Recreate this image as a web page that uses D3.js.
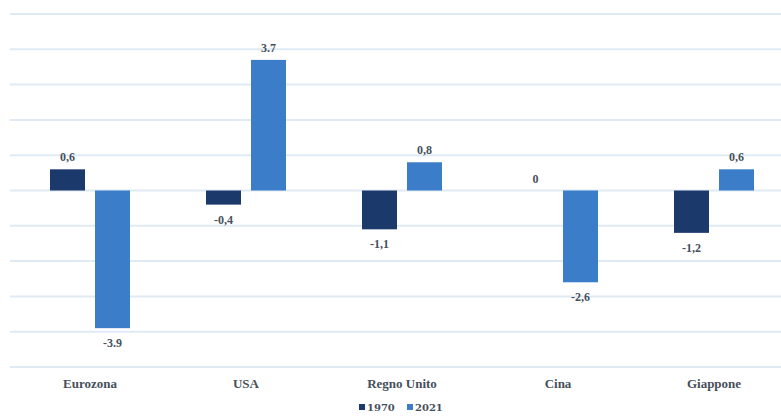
<!DOCTYPE html>
<html>
<head>
<meta charset="utf-8">
<script src="https://cdn.jsdelivr.net/npm/d3@7"></script>
<style>
  body { margin: 0; background: #fff; }
  svg { display: block; font-family: "Liberation Serif", "DejaVu Serif", serif; }
</style>
</head>
<body>
<svg width="781" height="417"></svg>
<script>
// Chart data
var categories = ['Eurozona', 'USA', 'Regno Unito', 'Cina', 'Giappone'];
var seriesNames = ['1970', '2021'];
var values1970 = [0.6, -0.4, -1.1, 0, -1.2];
var values2021 = [-3.9, 3.7, 0.8, -2.6, 0.6];
var labels1970 = ['0,6', '-0,4', '-1,1', '0', '-1,2'];
var labels2021 = ['-3.9', '3.7', '0,8', '-2,6', '0,6'];
var yTicks = [-5, -4, -3, -2, -1, 0, 1, 2, 3, 4, 5];

var colors = {'1970': '#1b3a6b', '2021': '#3b7dc9'};

var svg = d3.select('svg');

// Scales
var xScale = d3.scaleBand()
    .domain(categories)
    .range([12, 792]);

var xInner = d3.scaleBand()
    .domain(seriesNames)
    .range([0, 80])
    .paddingInner(0.222);

var yScale = d3.scaleLinear()
    .domain([-5, 5])
    .range([367, 14]);

// Gridlines
svg.append('g')
    .selectAll('line')
    .data(yTicks)
    .enter()
    .append('line')
    .attr('x1', 10)
    .attr('x2', 781)
    .attr('y1', function(d) { return yScale(d); })
    .attr('y2', function(d) { return yScale(d); })
    .attr('stroke', '#dfeaf4')
    .attr('stroke-width', 2);

// Build rows for bars
var rows = [];
categories.forEach(function(c, i) {
    rows.push({cat: c, series: '1970', value: values1970[i], label: labels1970[i]});
    rows.push({cat: c, series: '2021', value: values2021[i], label: labels2021[i]});
});

var offset = (xScale.bandwidth() - 80) / 2;

var barG = svg.append('g');

barG.selectAll('rect')
    .data(rows.filter(function(d) { return d.value !== 0; }))
    .enter()
    .append('rect')
    .attr('x', function(d) { return xScale(d.cat) + offset + xInner(d.series); })
    .attr('width', xInner.bandwidth())
    .attr('y', function(d) { return yScale(Math.max(0, d.value)); })
    .attr('height', function(d) { return Math.abs(yScale(d.value) - yScale(0)); })
    .attr('fill', function(d) { return colors[d.series]; });

// Value labels
barG.selectAll('text')
    .data(rows)
    .enter()
    .append('text')
    .attr('x', function(d) { return xScale(d.cat) + offset + xInner(d.series) + xInner.bandwidth() / 2; })
    .attr('y', function(d) {
        return d.value >= 0 ? yScale(d.value) - 8 : yScale(d.value) + 19;
    })
    .attr('text-anchor', 'middle')
    .attr('font-size', 12)
    .attr('font-weight', 'bold')
    .attr('fill', '#46505c')
    .text(function(d) { return d.label; });

// Category labels
svg.append('g')
    .selectAll('text')
    .data(categories)
    .enter()
    .append('text')
    .attr('x', function(d) { return xScale(d) + xScale.bandwidth() / 2; })
    .attr('y', 388)
    .attr('text-anchor', 'middle')
    .attr('font-size', 13)
    .attr('font-weight', 'bold')
    .attr('fill', '#46505c')
    .text(function(d) { return d; });

// Legend
var legendX = [359, 407];
var legend = svg.append('g')
    .selectAll('g')
    .data(seriesNames)
    .enter()
    .append('g')
    .attr('transform', function(d, i) { return 'translate(' + [legendX[i], 408] + ')'; });

legend.append('rect')
    .attr('x', 0)
    .attr('y', -4)
    .attr('width', 6)
    .attr('height', 6)
    .attr('fill', function(d) { return colors[d]; });

legend.append('text')
    .attr('x', 8)
    .attr('y', 3)
    .attr('font-family', 'DejaVu Serif')
    .attr('font-size', 10)
    .attr('font-weight', 'bold')
    .attr('fill', '#46505c')
    .text(function(d) { return d; });
</script>
</body>
</html>
